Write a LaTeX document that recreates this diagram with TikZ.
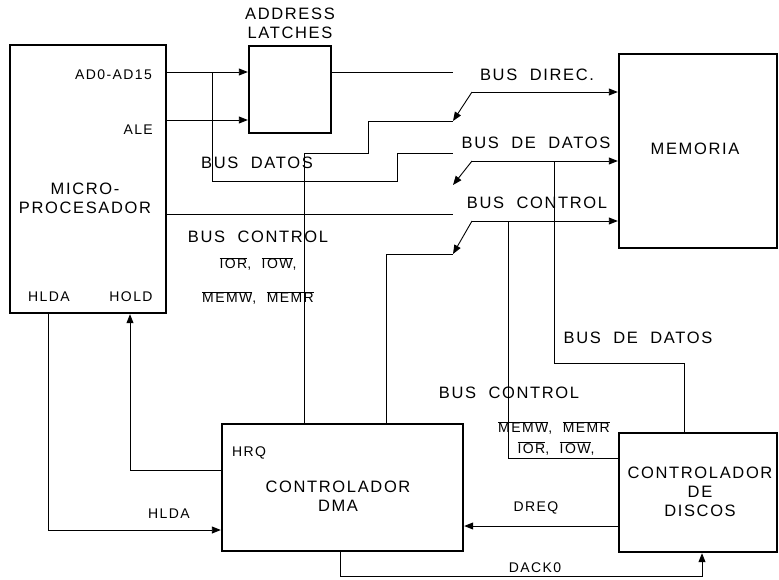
\documentclass[tikz,border=0pt]{standalone}
\usepackage{fontspec}
\usepackage{tikz}
\usetikzlibrary{arrows.meta}
\newfontfamily\lbl[LetterSpace=10,WordSpace=2]{Liberation Sans}
\newcommand\ovl[1]{$\overline{\hbox{#1}}$}

\begin{document}
\begin{tikzpicture}[
          x=1pt, y=-1pt,
          box/.style={draw, line width=2.4pt, inner sep=0pt},
          big/.style={font=\lbl\fontsize{16.5}{19}\selectfont, inner sep=0pt, align=center},
          small/.style={font=\lbl\fontsize{14}{16}\selectfont, inner sep=0pt, align=center},
          wire/.style={line width=0.9pt},
          arr/.style={wire, -{Triangle[length=9pt, width=7pt]}},
        ]
          \useasboundingbox (0,0) rectangle (779,579);

          \node[box, minimum width=156pt, minimum height=268pt] (mp)   at (88,179)    {};
          \node[box, minimum width=82pt,  minimum height=87pt]  (al)   at (290,89.5)  {};
          \node[box, minimum width=158pt, minimum height=194pt] (mem)  at (698,151)   {};
          \node[box, minimum width=241pt, minimum height=127pt] (dma)  at (342.5,487.5) {};
          \node[box, minimum width=158pt, minimum height=119pt] (disc) at (698,492.5) {};

          \node[big] (altxt)  at (290,23)  {ADDRESS\\LATCHES};
          \node[big] (mptxt)  at (85,198)  {MICRO-\\PROCESADOR};
          \node[big] (memtxt) at (695,149) {MEMORIA};
          \node[big] (dmatxt) at (338,496) {CONTROLADOR\\DMA};
          \node[big] (dsctxt) at (700,492) {CONTROLADOR\\DE\\DISCOS};

          \node[small, anchor=east] (adtxt)  at (152,75)  {AD0-AD15};
          \node[small, anchor=east] (aletxt) at (153,130) {ALE};
          \node[small] (hlda1)  at (49,297)  {HLDA};
          \node[small] (hold)   at (131,297) {HOLD};
          \node[small] (hrqtxt) at (249,453) {HRQ};
          \node[small] (hlda2)  at (169,514) {HLDA};
          \node[small] (dreq)   at (536,508) {DREQ};
          \node[small] (dack)   at (535,568) {DACK0};

          \node[big] (busdat)  at (257,163) {BUS DATOS};
          \node[big] (busctl1) at (258,237) {BUS CONTROL};
          \node[small] (sig1)  at (258,264) {\ovl{IOR}, \ovl{IOW},};
          \node[small] (sig2)  at (258,298) {\ovl{MEMW}, \ovl{MEMR}};
          \node[big] (busdir)  at (537,75)  {BUS DIREC.};
          \node[big] (busdd1)  at (536,143) {BUS DE DATOS};
          \node[big] (busctl2) at (537,203) {BUS CONTROL};
          \node[big] (busdd2)  at (638,338) {BUS DE DATOS};
          \node[big] (busctl3) at (509,393) {BUS CONTROL};
          \node[small] (sig3)  at (554,428) {\ovl{MEMW}, \ovl{MEMR}};
          \node[small] (sig4)  at (556,448) {\ovl{IOR}, \ovl{IOW},};

          \coordinate (j1)   at (212,72);
          \coordinate (yale) at (0,120);
          \coordinate (adrL) at (453,72);
          \coordinate (adrS) at (472,92);
          \coordinate (adrT) at (453,121);
          \coordinate (datL) at (453,153);
          \coordinate (datS) at (472,161);
          \coordinate (datT) at (453,185);
          \coordinate (ctlL) at (453,214);
          \coordinate (ctlS) at (472,221);
          \coordinate (ctlT) at (453,254);

          \draw[arr] (mp.east |- j1) -- (al.west |- j1);
          \draw[arr] (mp.east |- yale) -- (al.west |- yale);
          \draw[wire] (al.east |- j1) -- (adrL);
          \draw[wire] (j1) |- (397,181) |- (datL);
          \draw[wire] (mp.east |- ctlL) -- (ctlL);

          \draw[arr] (adrS) -- (mem.west |- adrS);
          \draw[arr] (adrS) -- (adrT);
          \draw[arr] (datS) -- (mem.west |- datS);
          \draw[arr] (datS) -- (datT);
          \draw[arr] (ctlS) -- (mem.west |- ctlS);
          \draw[arr] (ctlS) -- (ctlT);

          \draw[wire] (dma.north -| 304,0) |- (368,153) |- (adrT);
          \draw[wire] (dma.north -| 386,0) |- (ctlT);
          \draw[wire] (508,221) |- (disc.west |- 0,458);
          \draw[wire] (554,161) |- (684,363) -- (disc.north -| 684,0);

          \draw[arr] (dma.west |- 0,470) -| (mp.south -| 130,0);
          \draw[arr] (mp.south -| 48,0) |- (dma.west |- 0,530);
          \draw[arr] (disc.west |- 0,526) -- (dma.east |- 0,526);
          \draw[arr] (dma.south -| 340,0) |- (702,576) -- (disc.south -| 702,0);
        \end{tikzpicture}
\end{document}
